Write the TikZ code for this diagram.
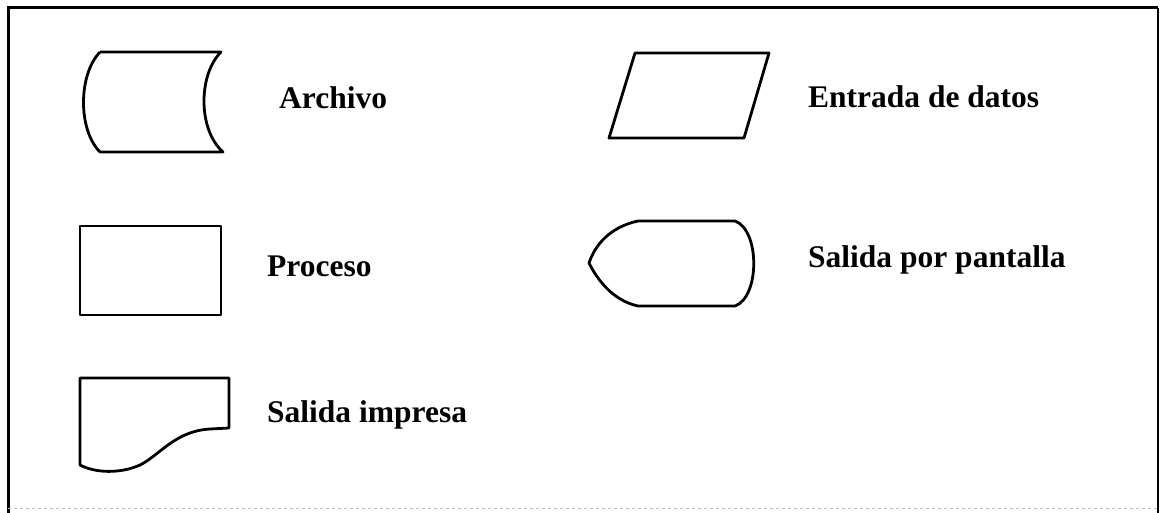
\documentclass[tikz,border=0pt]{standalone}
\usepackage{fontspec}
\setmainfont{Liberation Serif}
\begin{document}
\begin{tikzpicture}[x=1pt,y=-1pt,
    simbolo/.style={line width=2.8pt,line join=round},
    etiqueta/.style={font=\fontsize{31.5}{36}\selectfont\bfseries,inner sep=0pt,anchor=base west}]
        \useasboundingbox (0,0) rectangle (1160,513);
        % marco
        \draw[line width=3pt] (8,513) -- (8,8) -- (1158,8);
        \draw[line width=1.6pt] (1158,8) -- (1158,513);
        \draw[gray!50,dashed,line width=1pt] (8,508) -- (1158,508);
        % archivo
        \draw[simbolo] (100,52) -- (221,52)
            .. controls (198,75) and (198,130) .. (223,152) -- (100,152)
            .. controls (78,130) and (78,75) .. (100,52);
        \node[etiqueta] (archivo) at (279,109) {Archivo};
        % proceso
        \draw[simbolo] (80,226) rectangle (221,315);
        \node[etiqueta] (proceso) at (267,277) {Proceso};
        % salida impresa
        \draw[simbolo] (80,378) -- (229,378) -- (229,428) -- (210,429)
            .. controls (175,431) and (160,455) .. (140,465)
            .. controls (120,474) and (95,473) .. (80,465) -- cycle;
        \node[etiqueta] (impresa) at (267,422) {Salida impresa};
        % entrada de datos
        \draw[simbolo] (635,53) -- (769,53) -- (744,138) -- (609,138) -- cycle;
        \node[etiqueta] (entrada) at (808,108) {Entrada de datos};
        % salida por pantalla
        \draw[simbolo] (638,221) -- (735,221)
            .. controls (760,230) and (760,297) .. (735,306) -- (638,306)
            .. controls (610,300) and (595,275) .. (589,263)
            .. controls (595,245) and (610,227) .. (638,221);
        \node[etiqueta] (pantalla) at (808,268) {Salida por pantalla};
    \end{tikzpicture}
\end{document}
